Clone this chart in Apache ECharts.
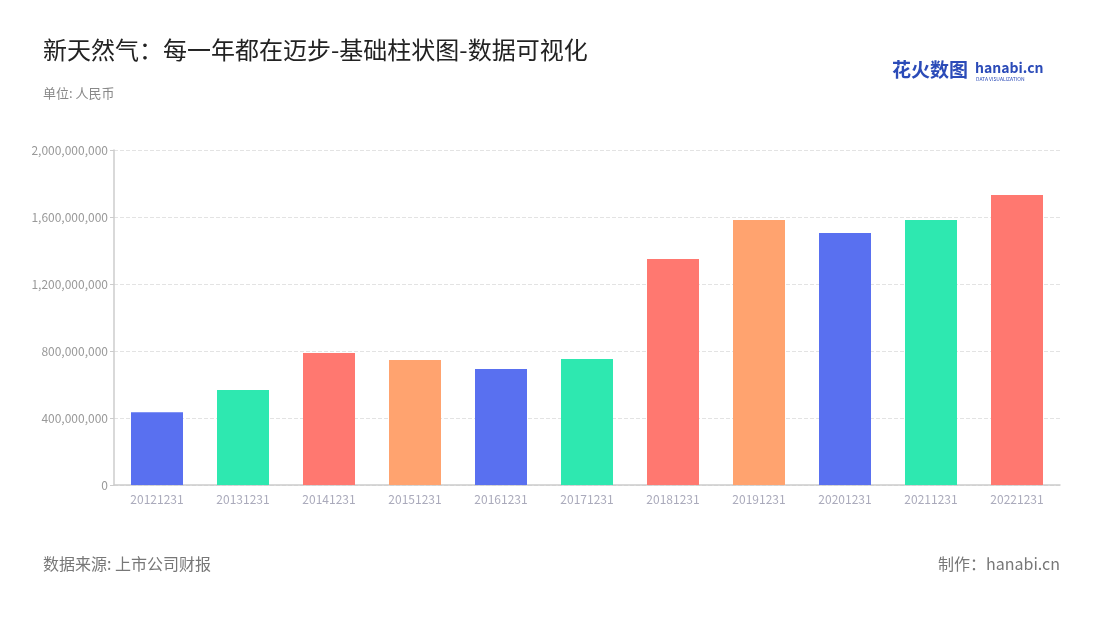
<!DOCTYPE html>
<html>
<head>
<meta charset="utf-8">
<script src="https://cdn.jsdelivr.net/npm/echarts@6/dist/echarts.min.js"></script>
<style>
  html, body { margin: 0; padding: 0; background: #fff; }
  #chart { width: 1100px; height: 620px; }
</style>
</head>
<body>
<div id="chart"></div>
<script>
const categories = ['20121231', '20131231', '20141231', '20151231', '20161231', '20171231',
    '20181231', '20191231', '20201231', '20211231', '20221231'];
const values = [435000000, 567000000, 788000000, 746000000, 693000000, 752000000,
    1349000000, 1582000000, 1504000000, 1582000000, 1731000000];
const colors = ['#5970f0', '#2ee8b0', '#ff7870', '#ffa36f'];

const font = '"Noto Sans CJK SC", "Noto Sans", sans-serif';
const chart = echarts.init(document.getElementById('chart'));

chart.setOption({
    textStyle: { fontFamily: font },
    graphic: [
        { type: 'text', left: 43, top: 38, style: { text: '新天然气：每一年都在迈步-基础柱状图-数据可视化', fontSize: 24, fill: '#222', fontFamily: font } },
        { type: 'text', left: 43, top: 87, style: { text: '单位: 人民币', fontSize: 13, fill: '#888', fontFamily: font } },
        { type: 'text', left: 43, top: 556, style: { text: '数据来源: 上市公司财报', fontSize: 16, fill: '#777', fontFamily: font } },
        { type: 'text', right: 40, top: 556, style: { text: '制作：hanabi.cn', fontSize: 16, fill: '#777', fontFamily: font } },
        { type: 'text', left: 892, top: 60, style: { text: '花火数图', fontSize: 19, fontWeight: 'bold', fill: '#2b4bb8', fontFamily: font } },
        { type: 'text', left: 975, top: 61, style: { text: 'hanabi.cn', fontSize: 14, fontWeight: 'bold', fill: '#2b4bb8', fontFamily: font } },
        { type: 'text', left: 976, top: 77, style: { text: 'DATA VISUALIZATION', fontSize: 5, fill: '#2b4bb8', fontFamily: font } }
    ],
    grid: { left: 114, right: 40, top: 150, bottom: 135 },
    xAxis: {
        type: 'category',
        data: categories,
        axisLine: { lineStyle: { color: '#ccc', width: 1.5 } },
        axisTick: { alignWithLabel: true, length: 4, lineStyle: { color: '#ccc' } },
        axisLabel: { color: '#aab', fontSize: 12, margin: 8 }
    },
    yAxis: {
        type: 'value',
        min: 0,
        max: 2000000000,
        interval: 400000000,
        axisLine: { show: true, lineStyle: { color: '#ccc', width: 1.5 } },
        axisTick: { show: true, length: 4, lineStyle: { color: '#ccc' } },
        axisLabel: {
            color: '#999', fontSize: 12, margin: 6,
            formatter: v => v.toLocaleString('en-US')
        },
        splitLine: { lineStyle: { type: 'dashed', color: '#e3e3e3' } }
    },
    series: [{
        type: 'bar',
        data: values,
        barWidth: 52,
        itemStyle: { color: p => colors[p.dataIndex % colors.length] }
    }]
});
</script>
</body>
</html>
